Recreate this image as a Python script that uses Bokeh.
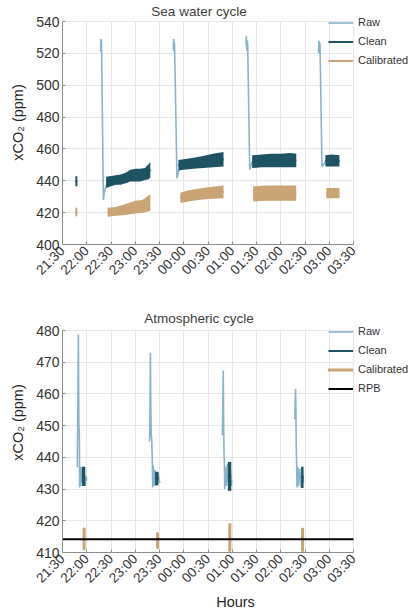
from math import pi
from bokeh.plotting import figure
from bokeh.models import Range1d, FixedTicker, Legend, LegendItem, Label
from bokeh.layouts import column
from bokeh.embed import file_html
from bokeh.resources import INLINE

FONT = "Liberation Sans"
C_RAW = "#8ab4cc"
C_CLEAN = "#1e5363"
C_CAL = "#c9a474"
C_RPB = "#000000"

# ---------------- axis ticks ----------------
tick_pos = [21.5, 22.0, 22.5, 23.0, 23.5, 24.0, 24.5, 25.0, 25.5, 26.0, 26.5, 27.0, 27.5]
tick_labels = ["21:30", "22:00", "22:30", "23:00", "23:30", "00:00", "00:30",
               "01:00", "01:30", "02:00", "02:30", "03:00", "03:30"]
sw_yticks = [400, 420, 440, 460, 480, 500, 520, 540]
atm_yticks = [410, 420, 430, 440, 450, 460, 470, 480]

# ---------------- Sea water cycle (hours, ppm) ----------------
sw_raw_t = [
    [22.285, 22.290, 22.295, 22.300, 22.305, 22.343, 22.36, 22.38, 22.40, 22.45, 22.60, 22.80, 23.00, 23.20, 23.31],
    [23.785, 23.790, 23.800, 23.805, 23.812, 23.860, 23.88, 23.90, 24.00, 24.30, 24.60, 24.82],
    [25.285, 25.290, 25.300, 25.310, 25.318, 25.360, 25.38, 25.41, 25.60, 26.00, 26.32],
    [26.780, 26.785, 26.795, 26.800, 26.810, 26.850, 26.88, 26.92, 27.05, 27.21],
]
sw_raw_v = [
    [521, 529, 522, 528, 526, 428, 432, 435, 437, 439, 440, 442, 443.5, 445, 447],
    [522, 529, 521, 527, 524, 441.5, 444, 447, 449, 451, 452.5, 453],
    [525, 531, 522, 528, 526, 447, 449, 452, 452.5, 452.5, 452.5],
    [520, 528, 522, 527, 525, 449, 450, 452, 452.5, 452.5],
]

sw_clean_t = [
    [21.765, 21.806],
    [22.40, 22.50, 22.60, 22.70, 22.80, 22.90, 23.00, 23.10, 23.20, 23.28, 23.31],
    [23.89, 24.00, 24.20, 24.40, 24.60, 24.82],
    [25.41, 25.60, 25.80, 26.00, 26.20, 26.32],
    [26.92, 27.05, 27.21],
]
sw_clean_lo = [
    [436.6, 436.6],
    [435.5, 436.5, 437.5, 437.5, 438.5, 439.5, 439.5, 439.5, 440.5, 441, 442],
    [446.5, 447, 447.5, 448, 448.5, 449],
    [448, 448.5, 448.5, 448.5, 448.5, 448.5],
    [449, 449, 449],
]
sw_clean_hi = [
    [442.9, 442.9],
    [442.5, 443, 443.5, 444, 445, 447, 447.5, 447.5, 448, 450.5, 452],
    [453, 453.5, 454.5, 455.5, 457, 458],
    [456, 456.5, 457, 457, 457.5, 457],
    [456, 456.5, 456],
]

sw_cal_t = [
    [21.765, 21.806],
    [22.43, 22.60, 22.80, 23.00, 23.15, 23.31],
    [23.93, 24.10, 24.30, 24.50, 24.82],
    [25.43, 25.70, 26.00, 26.32],
    [26.94, 27.21],
]
sw_cal_lo = [
    [417.7, 417.7],
    [417.5, 418, 418.5, 419.5, 420, 421],
    [426, 427, 428, 428.5, 429],
    [427, 427.5, 427.5, 427.5],
    [429, 429],
]
sw_cal_hi = [
    [423, 423],
    [423, 423.5, 425.5, 427.5, 428, 431.5],
    [432.5, 434, 435, 436, 437],
    [436.5, 437, 437, 437],
    [435.5, 435.5],
]

# ---------------- Atmospheric cycle (hours, ppm) ----------------
atm_raw_t = [
    [21.800, 21.806, 21.827, 21.838, 21.845, 21.850, 21.853, 21.86, 21.87, 21.88, 21.90, 21.93, 21.96, 21.99, 22.00],
    [23.293, 23.300, 23.312, 23.322, 23.330, 23.340, 23.350, 23.360, 23.37, 23.39, 23.41, 23.44, 23.47, 23.50, 23.51],
    [24.795, 24.800, 24.815, 24.822, 24.830, 24.838, 24.845, 24.86, 24.88, 24.90, 24.93, 24.96, 24.98, 24.99],
    [26.290, 26.295, 26.305, 26.312, 26.318, 26.326, 26.335, 26.35, 26.37, 26.39, 26.42, 26.45, 26.47],
]
atm_raw_v = [
    [437, 437, 478.7, 449.5, 449, 443, 430.5, 436, 431, 437, 432, 436, 431, 434, 432.7],
    [445, 447, 473, 455, 447, 445.5, 440, 430.5, 437.5, 431, 436, 431, 435, 432, 432.5],
    [447, 450.6, 467.4, 452, 441.6, 438.5, 430, 437, 431, 438, 430, 436, 431, 433],
    [452, 455.8, 461.6, 456, 445.8, 438.8, 430.5, 437, 431, 436.5, 430.5, 435, 432],
]
atm_clean_t = [[21.90, 21.97], [23.41, 23.48], [24.91, 24.98], [26.42, 26.47]]
atm_clean_lo = [431, 431.3, 429.5, 430.3]
atm_clean_hi = [437, 435.5, 438.5, 437]

atm_cal_t = [21.945, 23.46, 24.95, 26.45]
atm_cal_lo = [411.2, 411.6, 410.6, 410.6]
atm_cal_hi = [417.5, 416, 418.8, 417.4]

rpb_t = [21.5, 27.5]
rpb_v = [414.2, 414.2]

# ---------------- layout constants (pixels) ----------------
X0, X1 = 21.5, 27.5          # axis extent shown with grid / axis line
FRAME_W = 346                 # frame extends right to hold the legend
PX_PER_H = 48.5


def make_fig(frame_h, y0, y1_axis, px_per_unit, yticks, title, title_from_bottom, min_bottom):
    y_end = y0 + frame_h / px_per_unit
    x_end = X0 + FRAME_W / PX_PER_H
    p = figure(frame_width=FRAME_W, frame_height=frame_h,
               x_range=Range1d(X0, x_end), y_range=Range1d(y0, y_end),
               output_backend="svg", toolbar_location=None,
               min_border_left=62, min_border_right=0,
               min_border_top=0, min_border_bottom=min_bottom)
    p.outline_line_color = None
    p.background_fill_color = "white"
    p.border_fill_color = "white"

    p.add_layout(Label(x=136.5, y=title_from_bottom, x_units="screen", y_units="screen",
                       text=title, text_align="center", text_baseline="middle",
                       text_font=FONT, text_font_size="13.5px", text_color="#404040"))

    p.xaxis.ticker = FixedTicker(ticks=tick_pos)
    p.xaxis.major_label_overrides = dict(zip(tick_pos, tick_labels))
    p.xaxis.major_label_orientation = pi / 4
    p.xaxis.bounds = (X0, X1)
    p.yaxis.ticker = FixedTicker(ticks=yticks)
    p.yaxis.bounds = (y0, y1_axis)
    for ax in (p.xaxis[0], p.yaxis[0]):
        ax.axis_line_color = "#8c8c8c"
        ax.major_tick_line_color = "#8c8c8c"
        ax.major_tick_in = 3
        ax.major_tick_out = 0
        ax.minor_tick_line_color = None
        ax.major_label_text_font = FONT
        ax.major_label_text_color = "#333333"
        ax.axis_label_text_font = FONT
        ax.axis_label_text_font_style = "normal"
        ax.axis_label_text_color = "#262626"
        ax.axis_label_text_font_size = "14.5px"
    p.xaxis.major_label_text_font_size = "13.5px"
    p.yaxis.major_label_text_font_size = "14px"
    p.xaxis.major_label_standoff = 4
    p.yaxis.major_label_standoff = 3
    p.yaxis.axis_label = "xCO\u2082 (ppm)"
    p.yaxis.axis_label_standoff = 7
    p.xgrid.ticker = FixedTicker(ticks=tick_pos)
    p.ygrid.ticker = FixedTicker(ticks=yticks)
    p.xgrid.cross_bounds = (y0, y1_axis)
    p.ygrid.cross_bounds = (X0, X1)
    for g in (p.xgrid[0], p.ygrid[0]):
        g.grid_line_color = "#e6e6e6"
        g.grid_line_width = 1
    return p


def add_legend(p, items, vy):
    leg = Legend(items=items, location=(266, vy), orientation="vertical")
    leg.label_text_font = FONT
    leg.label_text_font_size = "11px"
    leg.label_text_color = "#333333"
    leg.glyph_width = 25
    leg.glyph_height = 19
    leg.label_height = 19
    leg.label_standoff = 5
    leg.spacing = 0
    leg.padding = 0
    leg.margin = 0
    leg.background_fill_alpha = 0
    leg.border_line_color = None
    p.add_layout(leg)


# ---------------- top figure: frame page y 0..244, 540 at y=21 ----------------
p1 = make_fig(244, 400, 540, 223 / 140, sw_yticks, "Sea water cycle", 244 - 11, 48)

raw_r = None
for t, v in zip(sw_raw_t, sw_raw_v):
    r = p1.line(t, v, line_color=C_RAW, line_width=1.6)
    raw_r = raw_r or r
clean_r = None
for t, lo, hi in zip(sw_clean_t, sw_clean_lo, sw_clean_hi):
    p1.varea(x=t, y1=lo, y2=hi, fill_color=C_CLEAN)
    mid = [(a + b) / 2 for a, b in zip(lo, hi)]
    r = p1.line(t, mid, line_color=C_CLEAN, line_width=2)
    clean_r = clean_r or r
cal_r = None
for t, lo, hi in zip(sw_cal_t, sw_cal_lo, sw_cal_hi):
    p1.varea(x=t, y1=lo, y2=hi, fill_color=C_CAL)
    mid = [(a + b) / 2 for a, b in zip(lo, hi)]
    r = p1.line(t, mid, line_color=C_CAL, line_width=2)
    cal_r = cal_r or r

add_legend(p1, [LegendItem(label="Raw", renderers=[raw_r]),
                LegendItem(label="Clean", renderers=[clean_r]),
                LegendItem(label="Calibrated", renderers=[cal_r])], 244 - 69.5)

# ---------------- bottom figure: frame page y 292..552, 480 at y=330 ----------------
p2 = make_fig(260, 410, 480, 222 / 70, atm_yticks, "Atmospheric cycle", 552 - 318, 0)
p2.xaxis.axis_label = "Hours"
p2.xaxis.axis_label_standoff = 0

raw2 = None
for t, v in zip(atm_raw_t, atm_raw_v):
    r = p2.line(t, v, line_color=C_RAW, line_width=1.6)
    raw2 = raw2 or r
clean2 = None
for t, lo, hi in zip(atm_clean_t, atm_clean_lo, atm_clean_hi):
    p2.varea(x=t, y1=[lo, lo], y2=[hi, hi], fill_color=C_CLEAN)
    r = p2.line(t, [(lo + hi) / 2] * 2, line_color=C_CLEAN, line_width=2)
    clean2 = clean2 or r
cal2 = p2.segment(x0=atm_cal_t, y0=atm_cal_lo, x1=atm_cal_t, y1=atm_cal_hi,
                  line_color=C_CAL, line_width=3, line_cap="round")
rpb = p2.line(rpb_t, rpb_v, line_color=C_RPB, line_width=2)

add_legend(p2, [LegendItem(label="Raw", renderers=[raw2]),
                LegendItem(label="Clean", renderers=[clean2]),
                LegendItem(label="Calibrated", renderers=[cal2]),
                LegendItem(label="RPB", renderers=[rpb])], 552 - 397.5)

layout = column(p1, p2, spacing=0)
open("out.html", "w").write(file_html(layout, INLINE))
